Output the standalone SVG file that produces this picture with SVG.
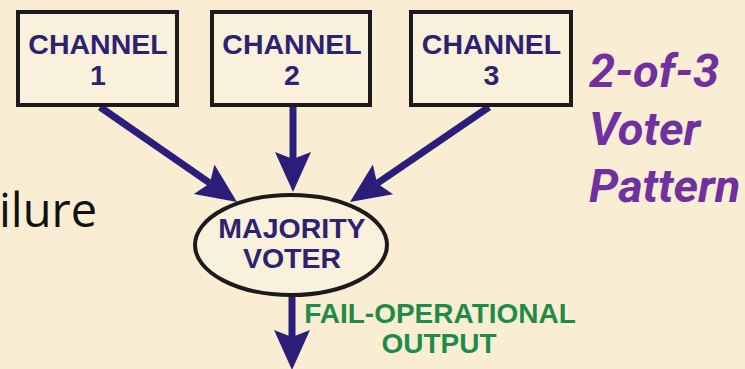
<svg xmlns="http://www.w3.org/2000/svg" width="745" height="369" viewBox="0 0 745 369">
<style>
.box{fill:#faf1dc;stroke:#1c1a1a;stroke-width:4}
.nav{font-family:"Liberation Sans",Arial,sans-serif;font-weight:bold;font-size:28.5px;fill:#2b2272;text-anchor:middle}
.grn{font-family:"Liberation Sans",Arial,sans-serif;font-weight:bold;font-size:28px;fill:#1e8c46;text-anchor:middle}
.pur{font-family:Roboto,"Liberation Sans",sans-serif;font-weight:bold;font-style:italic;font-size:47px;fill:#7030a0}
.conn{stroke:#2a1e7a;stroke-width:7;fill:none;marker-end:url(#ah)}
</style>
<defs>
<marker id="ah" markerUnits="userSpaceOnUse" markerWidth="42" markerHeight="40" refX="7" refY="20" orient="auto" viewBox="0 0 42 40">
<path d="M0,2 L40,20 L0,38 L7,20 Z" fill="#2a1e7a"/>
</marker>
</defs>
<rect width="745" height="369" fill="#f9eed4"/>
<text x="-1" y="227" font-family="'Open Sans','Noto Sans',sans-serif" font-size="47" fill="#111">ilure</text>
<g id="connectors">
<line class="conn" x1="100" y1="107" x2="209.9" y2="183.2"/>
<line class="conn" x1="293" y1="107" x2="293" y2="159"/>
<line class="conn" x1="489" y1="107" x2="377.2" y2="183.4"/>
<line class="conn" x1="292" y1="297" x2="292" y2="337"/>
</g>
<g id="channel1">
<rect class="box" x="18" y="12" width="159" height="93"/>
<text class="nav" x="98" y="54">CHANNEL</text>
<text class="nav" x="98" y="84.5">1</text>
</g>
<g id="channel2">
<rect class="box" x="212" y="12" width="158" height="93"/>
<text class="nav" x="292" y="54">CHANNEL</text>
<text class="nav" x="292" y="84.5">2</text>
</g>
<g id="channel3">
<rect class="box" x="411" y="12" width="160" height="93"/>
<text class="nav" x="491.5" y="54">CHANNEL</text>
<text class="nav" x="491.5" y="84.5">3</text>
</g>
<g id="voter">
<ellipse cx="291" cy="245" rx="96" ry="50" fill="#faf1dc" stroke="#1c1a1a" stroke-width="4"/>
<text class="nav" x="292" y="238">MAJORITY</text>
<text class="nav" x="292" y="268">VOTER</text>
</g>
<g id="output-label">
<text class="grn" x="440" y="323">FAIL-OPERATIONAL</text>
<text class="grn" x="439" y="353">OUTPUT</text>
</g>
<g id="title">
<text class="pur" x="589" y="87">2-of-3</text>
<text class="pur" x="589" y="145">Voter</text>
<text class="pur" x="589" y="202">Pattern</text>
</g>
</svg>
